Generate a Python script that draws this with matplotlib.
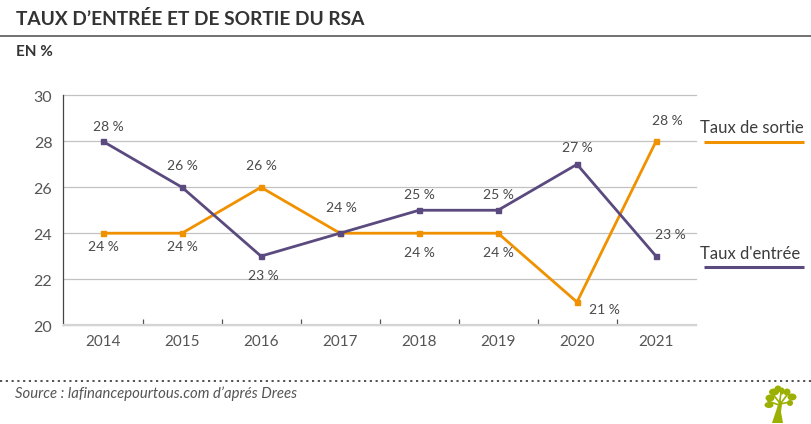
import matplotlib
matplotlib.use("Agg")
import matplotlib.pyplot as plt
from matplotlib.patches import Ellipse, Polygon
from matplotlib.lines import Line2D

plt.rcParams['font.family'] = ['Lato', 'DejaVu Sans']

years = ['2014', '2015', '2016', '2017', '2018', '2019', '2020', '2021']
taux_sortie = [24, 24, 26, 24, 24, 24, 21, 28]
taux_entree = [28, 26, 23, 24, 25, 25, 27, 23]
y_ticks = [20, 22, 24, 26, 28, 30]
ORANGE = '#F09100'
PURPLE = '#5A4A7F'
GREY = '#555555'

W, H = 812, 424
fig = plt.figure(figsize=(W / 100, H / 100), dpi=100)
def fx(x): return x / W
def fy(y): return 1 - y / H

L, R, T, B = 63.5, 695.5, 95.5, 325
ax = fig.add_axes([fx(L), fy(B), (R - L) / W, (B - T) / H])
ax.set_xlim(-0.5, 7.5)
ax.set_ylim(20, 30)
ax.set_facecolor('none')
ax.grid(axis='y', color='#c2c2c2', lw=0.9, zorder=0)
ax.set_axisbelow(True)
for s in ['top', 'right']:
    ax.spines[s].set_visible(False)
ax.spines['left'].set_color('#444444')
ax.spines['left'].set_linewidth(0.9)
ax.spines['bottom'].set_color('#d4d4d4')
ax.spines['bottom'].set_linewidth(1.6)
ax.set_yticks(y_ticks)
ax.set_yticklabels([])
ax.tick_params(axis='y', length=0)
for g in ax.get_ygridlines():
    g.set_clip_on(False)
for v in y_ticks:
    ax.annotate(str(v), (-0.5, v), xytext=(-8, -2), textcoords='offset points', ha='right', va='center',
                fontsize=11.5, color=GREY)
ax.set_xticks([i + 0.5 for i in range(7)])
ax.set_xticklabels([])
ax.tick_params(axis='x', direction='in', length=4.5, width=0.9, color='#555555')
for i, y in enumerate(years):
    ax.annotate(y, (i, 20), xytext=(0, -7.5), textcoords='offset points', ha='center', va='top',
                fontsize=11, color=GREY)

xs = list(range(len(years)))
ax.plot(xs, taux_sortie, color=ORANGE, lw=2.0, marker='s', ms=3.6, solid_joinstyle='miter', zorder=3)
ax.plot(xs, taux_entree, color=PURPLE, lw=2.0, marker='s', ms=3.6, solid_joinstyle='miter', zorder=4)

# label offsets in points: (dx, dy) from the point
off_s = [(0, -10), (0, -10), (0, 15), (1, 18), (0, -14), (0, -14), (20, -6), (8, 15)]
off_e = [(4, 10.5), (0, 15), (2, -14), None, (0, 11), (0, 11), (0, 12), (10, 15.5)]
for i, v in enumerate(taux_sortie):
    dx, dy = off_s[i]
    ax.annotate(f'{v} %', (i, v), xytext=(dx, dy), textcoords='offset points', ha='center', va='center',
                fontsize=10, color='#4a4a4a', zorder=5)
for i, v in enumerate(taux_entree):
    if off_e[i] is None:
        continue
    dx, dy = off_e[i]
    ax.annotate(f'{v} %', (i, v), xytext=(dx, dy), textcoords='offset points', ha='center', va='center',
                fontsize=10, color='#4a4a4a', zorder=5)

# title block
fig.text(fx(16), fy(19), "TAUX D\u2019ENTRÉE ET DE SORTIE DU RSA", fontsize=13.8, fontweight='bold',
         color='#333333', ha='left', va='center')
fig.add_artist(Line2D([0, 1], [fy(36.3)] * 2, color='#666666', lw=1.3))
fig.text(fx(16), fy(52), "EN %", fontsize=11, fontweight='bold', color='#333333', ha='left', va='center')

# direct legend
fig.text(fx(700), fy(128), "Taux de sortie", fontsize=12.0, color='#3c3c3c', ha='left', va='center')
fig.add_artist(Line2D([fx(704), fx(804)], [fy(141.5)] * 2, color=ORANGE, lw=2.2, solid_capstyle='butt'))
fig.text(fx(700), fy(254), "Taux d'entrée", fontsize=12.0, color='#3c3c3c', ha='left', va='center')
fig.add_artist(Line2D([fx(704), fx(804)], [fy(266.5)] * 2, color=PURPLE, lw=2.2, solid_capstyle='butt'))

# footer
fig.add_artist(Line2D([0, 1], [fy(381)] * 2, color='#444444', lw=1.3, ls=(0, (1.2, 2))))
fig.text(fx(15), fy(394), "Source : lafinancepourtous.com d\u2019aprés Drees", fontsize=10.7, style='italic',
         color=GREY, ha='left', va='center')

# logo tree
GREEN = '#9BB000'
trunk = Polygon([(fx(772), fy(423)), (fx(783), fy(423)), (fx(781), fy(412)), (fx(782), fy(404)),
                 (fx(780), fy(398)), (fx(777), fy(408))], closed=True, transform=fig.transFigure,
                fc=GREEN, ec='none')
fig.add_artist(trunk)
for (x0, y0), (x1, y1) in [((779, 405), (768, 401)), ((779, 402), (772, 393)), ((780, 400), (781, 392)),
                           ((781, 403), (787, 395)), ((780, 404), (790, 402))]:
    fig.add_artist(Line2D([fx(x0), fx(x1)], [fy(y0), fy(y1)], color=GREEN, lw=1.2))
for cx, cy, w, h in [(769, 405, 9, 6), (770, 398, 9, 7), (774, 392, 10, 7), (778, 389, 7, 7),
                     (782, 391, 5, 7), (787, 392, 7, 7), (792, 397, 9, 7), (790, 403, 6, 6)]:
    fig.add_artist(Ellipse((fx(cx), fy(cy)), w / W, h / H, transform=fig.transFigure, fc=GREEN, ec='none'))

fig.savefig('out.png', dpi=100)
